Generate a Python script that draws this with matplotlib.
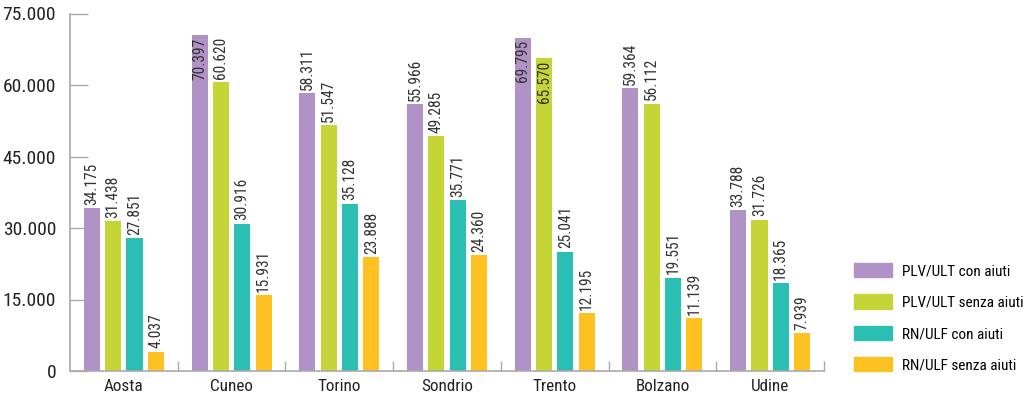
import matplotlib
matplotlib.use("Agg")
import matplotlib.pyplot as plt
import matplotlib.patches as mpatches
from matplotlib import font_manager
from matplotlib.ticker import FixedLocator
import numpy as np

# Pick a narrow sans face if one is installed
installed = {f.name for f in font_manager.fontManager.ttflist}
family = next((n for n in ["Roboto Condensed", "Liberation Sans Narrow", "Roboto"]
               if n in installed), "DejaVu Sans")
plt.rcParams['font.family'] = [family, 'DejaVu Sans']
narrow = family != "Roboto" and family != "DejaVu Sans"
scale = 1.12 if narrow else 1.0

# Data
provinces = ["Aosta", "Cuneo", "Torino", "Sondrio", "Trento", "Bolzano", "Udine"]
series_names = ["PLV/ULT con aiuti", "PLV/ULT senza aiuti",
                "RN/ULF con aiuti", "RN/ULF senza aiuti"]
plv_ult_con = [34175, 70397, 58311, 55966, 69795, 59364, 33788]
plv_ult_senza = [31438, 60620, 51547, 49285, 65570, 56112, 31726]
rn_ulf_con = [27851, 30916, 35128, 35771, 25041, 19551, 18365]
rn_ulf_senza = [4037, 15931, 23888, 24360, 12195, 11139, 7939]
y_ticks = [0, 15000, 30000, 45000, 60000, 75000]
y_tick_labels = ["0", "15.000", "30.000", "45.000", "60.000", "75.000"]

colors = ["#B192C6", "#C5D538", "#2BBFB3", "#FDC221"]
series = [plv_ult_con, plv_ult_senza, rn_ulf_con, rn_ulf_senza]

fig = plt.figure(figsize=(10.29, 3.99), dpi=100)
ax = fig.add_axes([70 / 1029, 28 / 399, 754 / 1029, 357.5 / 399])

x = np.arange(len(provinces))
width = 0.149
step = 0.198
offsets = [-1.5 * step, -0.5 * step, 0.5 * step, 1.5 * step]


def fmt(v):
    return f"{v / 1000:.3f}"


for vals, col, off in zip(series, colors, offsets):
    bars = ax.bar(x + off, vals, width=width, color=col, zorder=2)
    for b, v in zip(bars, vals):
        cx = b.get_x() + b.get_width() / 2
        if v > 63000:
            ax.text(cx, v - 400, fmt(v), rotation=90, ha="center", va="top",
                    fontsize=10 * scale, color="#333333", zorder=3)
        else:
            ax.text(cx, v + 700, fmt(v), rotation=90, ha="center", va="bottom",
                    fontsize=10 * scale, color="#333333", zorder=3)

ax.set_xlim(-0.5, len(provinces) - 0.5)
ax.set_ylim(0, 75000)

ax.set_yticks(y_ticks)
ax.set_yticklabels(y_tick_labels, fontsize=12.5 * scale, color="#222222")
ax.tick_params(axis="y", direction="in", length=13, width=1, color="#AAAAAA", pad=10)

ax.set_xticks(x)
ax.set_xticklabels(provinces, fontsize=11 * scale, color="#222222")
ax.tick_params(axis="x", which="major", length=0, pad=6)
ax.xaxis.set_minor_locator(FixedLocator(np.arange(0.5, len(provinces), 1.0).tolist()))
ax.tick_params(axis="x", which="minor", direction="in", length=7, width=1, color="#AAAAAA")

for s in ["top", "right"]:
    ax.spines[s].set_visible(False)
for s in ["left", "bottom"]:
    ax.spines[s].set_color("#AAAAAA")
    ax.spines[s].set_linewidth(1.2)

legend_size = 11 if narrow else 9.5
handles = [mpatches.Patch(color=c, label=n) for c, n in zip(colors, series_names)]
fig.legend(handles=handles, loc="upper left", bbox_to_anchor=(848 / 1029, 1 - 257 / 399),
           frameon=False, fontsize=legend_size, handlelength=2.45, handleheight=1.05,
           labelspacing=1.05, handletextpad=0.7, borderaxespad=0)

fig.savefig("out.png", dpi=100)
